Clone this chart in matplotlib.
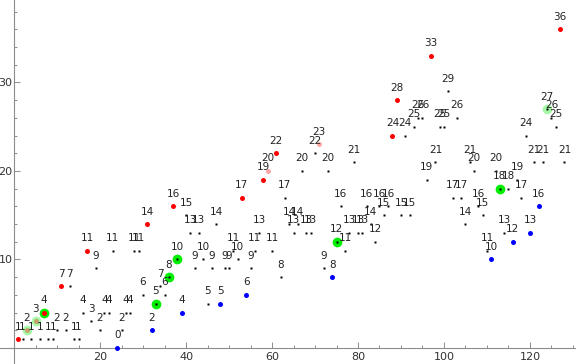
import matplotlib
matplotlib.use('Agg')
import matplotlib.pyplot as plt

# значения последовательности a(n), n = 1..128
n_values = list(range(1, 129))
a_values = [1, 1, 2, 1, 3, 1, 4, 1, 1, 2,
            7, 2, 7, 1, 1, 4, 11, 3, 9, 2,
            4, 4, 11, 0, 2, 4, 4, 11, 11, 6,
            14, 2, 5, 7, 6, 8, 16, 10, 4, 15,
            13, 9, 13, 10, 5, 9, 14, 5, 9, 9,
            11, 10, 17, 6, 9, 11, 13, 19, 20, 11,
            22, 8, 17, 14, 13, 14, 20, 13, 13, 22,
            23, 9, 20, 8, 12, 16, 11, 13, 21, 13,
            13, 16, 14, 12, 16, 15, 16, 24, 28, 15,
            24, 15, 25, 26, 26, 19, 33, 21, 25, 25,
            29, 17, 26, 17, 14, 21, 20, 16, 15, 11,
            10, 20, 18, 13, 18, 12, 19, 17, 24, 13,
            21, 16, 21, 27, 26, 25, 36, 21]

# отмеченные точки
red_n = [1, 3, 5, 7, 11, 17, 31, 37, 53, 58, 59, 61, 71, 88, 89, 97, 127]
blue_n = [24, 32, 39, 48, 54, 74, 111, 116, 120, 122]
green_n = [3, 5, 7, 33, 36, 38, 75, 113, 124]
pale_n = [3, 5, 59, 71, 124]


def main():
    val = dict(zip(n_values, a_values))

    fig = plt.figure(figsize=(5.76, 3.64), dpi=100)
    ax = fig.add_axes([0, 0, 1, 1])
    ax.set_xlim(-3.26, 130.7)
    ax.set_ylim(-1.81, 39.32)

    # оси в стиле Mathematica
    for side in ['top', 'right']:
        ax.spines[side].set_visible(False)
    ax.spines['left'].set_position(('data', 0))
    ax.spines['bottom'].set_position(('data', 0))
    for side in ['left', 'bottom']:
        ax.spines[side].set_color('#8c8c8c')
        ax.spines[side].set_linewidth(0.8)

    ax.set_xticks([20, 40, 60, 80, 100, 120])
    ax.set_xticks([x for x in range(5, 131, 5) if x % 20], minor=True)
    ax.set_yticks([10, 20, 30])
    ax.set_yticks([y for y in range(2, 40, 2) if y % 10], minor=True)
    ax.tick_params(which='both', direction='in', color='#8c8c8c', width=0.7,
                   labelsize=8, labelcolor='#333333')
    ax.tick_params(axis='x', pad=3)
    ax.tick_params(axis='y', pad=1)
    ax.tick_params(which='major', length=4)
    ax.tick_params(which='minor', length=2.5)

    # зелёные кольца снизу
    for k in green_n:
        alpha = 0.35 if k in pale_n else 1.0
        ax.plot(k, val[k], 'o', color='#00ee00', ms=7, mec='none', alpha=alpha, zorder=2)

    # обычные, красные и синие точки
    for k in n_values:
        alpha = 0.35 if k in pale_n else 1.0
        if k in red_n:
            ax.plot(k, val[k], 'o', color='red', ms=3.6, mec='none', alpha=alpha, zorder=3)
        elif k in blue_n:
            ax.plot(k, val[k], 'o', color='blue', ms=3.6, mec='none', alpha=alpha, zorder=3)
        else:
            ax.plot(k, val[k], 's', color='black', ms=1.6, mec='none', zorder=3)

        ax.annotate(str(val[k]), (k, val[k]), xytext=(0, 9), textcoords='offset points',
                    ha='center', va='center', fontsize=7.5, color='#222222', zorder=4)

    plt.savefig('out.png', dpi=100)


if __name__ == "__main__":
    main()
